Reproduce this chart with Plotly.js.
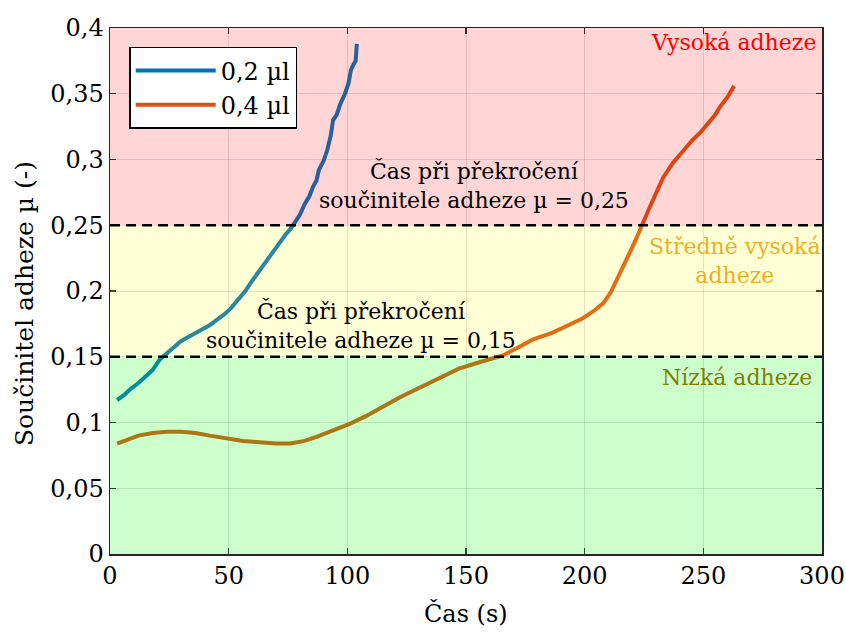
<!DOCTYPE html>
<html>
<head>
<meta charset="utf-8">
<script src="https://cdn.plot.ly/plotly-3.0.1.min.js"></script>
<style>
  html, body { margin: 0; padding: 0; background: #ffffff; }
  #chart { width: 846px; height: 634px; }
</style>
</head>
<body>
<div id="chart"></div>
<script>
// Friction coefficient over time for two droplet volumes
const seriesNames = ['0,2 µl', '0,4 µl'];

const time02 = [3, 6, 9, 12, 15, 18, 21, 24, 27, 30, 33, 36, 39, 42, 45, 48, 51, 54, 57, 60,
  62, 64, 66, 68, 70, 72, 74, 76, 78, 80, 82, 84, 85.5, 87, 88, 90, 91.5, 93, 94, 95.5,
  97, 99, 100.5, 101.5, 102.5, 103.5, 104];
const mu02 = [0.117, 0.121, 0.126, 0.130, 0.135, 0.140, 0.148, 0.153, 0.158, 0.162, 0.165, 0.168,
  0.171, 0.174, 0.178, 0.182, 0.187, 0.193, 0.200, 0.208, 0.213, 0.219, 0.224, 0.228, 0.233,
  0.238, 0.243, 0.247, 0.252, 0.258, 0.266, 0.272, 0.279, 0.284, 0.292, 0.299, 0.307, 0.318,
  0.330, 0.334, 0.342, 0.350, 0.358, 0.368, 0.372, 0.375, 0.388];

const time04 = [3, 7, 12, 18, 24, 30, 36, 42, 49, 56, 63, 70, 76, 82, 87, 93, 97, 101, 108, 115,
  122, 130, 139, 147, 156, 165.5, 172, 178, 181, 186, 192, 199, 204, 208, 211, 214, 217, 220,
  222.5, 224.5, 227, 230, 233, 237, 241, 245.5, 249, 252.5, 255, 257, 260, 263];
const mu04 = [0.084, 0.087, 0.090, 0.092, 0.093, 0.093, 0.092, 0.090, 0.088, 0.086, 0.085, 0.084,
  0.084, 0.086, 0.089, 0.093, 0.096, 0.099, 0.105, 0.112, 0.119, 0.126, 0.134, 0.141, 0.146,
  0.151, 0.157, 0.163, 0.165, 0.168, 0.173, 0.179, 0.185, 0.191, 0.199, 0.210, 0.221, 0.233,
  0.243, 0.252, 0.262, 0.274, 0.286, 0.297, 0.306, 0.315, 0.321, 0.328, 0.334, 0.340, 0.347, 0.356];

// Adhesion zones (lower bound, upper bound) and thresholds
const zoneBounds = [[0, 0.15], [0.15, 0.25], [0.25, 0.4]];
const zoneFills = ['rgba(0,255,0,0.2)', 'rgba(255,255,0,0.16)', 'rgba(255,0,0,0.165)'];
const thresholds = [0.15, 0.25];

const xTickVals = [0, 50, 100, 150, 200, 250, 300];
const xTickText = ['0', '50', '100', '150', '200', '250', '300'];
const yTickVals = [0, 0.05, 0.1, 0.15, 0.2, 0.25, 0.3, 0.35, 0.4];
const yTickText = ['0', '0,05', '0,1', '0,15', '0,2', '0,25', '0,3', '0,35', '0,4'];

const xTitle = 'Čas (s)';
const yTitle = 'Součinitel adheze µ (-)';

const serif = 'DejaVu Serif, serif';
const axisColor = '#262626';

const traces = [
  { x: time02, y: mu02, name: seriesNames[0], type: 'scatter', mode: 'lines',
    line: { color: '#0072BD', width: 4 } },
  { x: time04, y: mu04, name: seriesNames[1], type: 'scatter', mode: 'lines',
    line: { color: '#D95319', width: 4 } }
];

// Translucent zone bands sit above the curves so the curves take on the band tint
const shapes = [];
zoneBounds.forEach((b, i) => {
  shapes.push({ type: 'rect', xref: 'paper', yref: 'y', x0: 0, x1: 1, y0: b[0], y1: b[1],
    fillcolor: zoneFills[i], line: { width: 0 }, layer: 'above' });
});
thresholds.forEach(v => {
  shapes.push({ type: 'line', xref: 'paper', yref: 'y', x0: 0, x1: 1, y0: v, y1: v,
    line: { color: '#000000', width: 2.5, dash: '10px,6px' }, layer: 'above' });
});

const notes = [
  { x: 153.4, y: 0.280, text: 'Čas při překročení<br>součinitele adheze µ = 0,25',
    color: '#000000' },
  { x: 105.8, y: 0.174, text: 'Čas při překročení<br>součinitele adheze µ = 0,15',
    color: '#000000' },
  { x: 262.5, y: 0.3886, text: 'Vysoká adheze', color: '#FF0000' },
  { x: 263.4, y: 0.2228, text: 'Středně vysoká<br>adheze', color: '#EDB120' },
  { x: 264.2, y: 0.1346, text: 'Nízká adheze', color: '#7F7F00' }
].map(a => ({
  x: a.x, y: a.y, xref: 'x', yref: 'y', text: a.text, showarrow: false,
  xanchor: 'center', yanchor: 'middle', align: 'center',
  font: { family: serif, size: 22, color: a.color }
}));

// Axis titles placed as paper annotations
const titles = [
  { x: 0.5, y: -0.114, xref: 'paper', yref: 'paper', text: xTitle, showarrow: false,
    xanchor: 'center', yanchor: 'middle', font: { family: serif, size: 24, color: '#000000' } },
  { x: -0.1208, y: 0.477, xref: 'paper', yref: 'paper', text: yTitle, showarrow: false,
    textangle: -90, xanchor: 'center', yanchor: 'middle',
    font: { family: serif, size: 25, color: '#000000' } }
];

const layout = {
  width: 846, height: 634,
  margin: { l: 110, r: 24, t: 28, b: 80 },
  paper_bgcolor: '#ffffff', plot_bgcolor: '#ffffff',
  font: { family: serif, size: 22, color: '#000000' },
  showlegend: true,
  legend: {
    x: 0.027, y: 0.964, xanchor: 'left', yanchor: 'top',
    bgcolor: '#ffffff', bordercolor: '#000000', borderwidth: 1.5,
    font: { family: serif, size: 24, color: '#000000' },
    itemwidth: 80, tracegroupgap: 0
  },
  xaxis: {
    range: [0, 300], tickvals: xTickVals, ticktext: xTickText,
    showgrid: true, gridcolor: 'rgba(0,0,0,0.12)', gridwidth: 1, zeroline: false,
    showline: true, linecolor: axisColor, linewidth: 1.5, mirror: 'ticks',
    ticks: 'inside', ticklen: 6, tickcolor: axisColor, tickwidth: 1.2,
    tickfont: { family: serif, size: 24, color: '#000000' }
  },
  yaxis: {
    range: [0, 0.4], tickvals: yTickVals, ticktext: yTickText,
    showgrid: true, gridcolor: 'rgba(0,0,0,0.12)', gridwidth: 1, zeroline: false,
    showline: true, linecolor: axisColor, linewidth: 1.5, mirror: 'ticks',
    ticks: 'inside', ticklen: 6, tickcolor: axisColor, tickwidth: 1.2,
    tickfont: { family: serif, size: 24, color: '#000000' }
  },
  shapes: shapes,
  annotations: notes.concat(titles)
};

Plotly.newPlot('chart', traces, layout, { displayModeBar: false, staticPlot: true });
</script>
</body>
</html>
